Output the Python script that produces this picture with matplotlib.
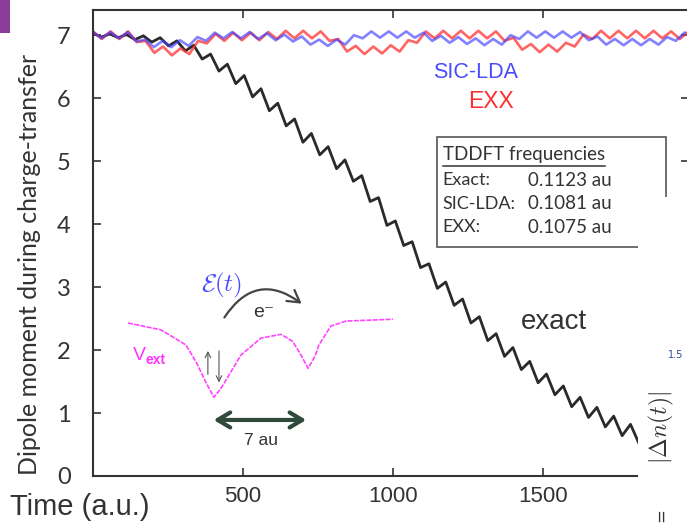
import numpy as np
import matplotlib
matplotlib.use('Agg')
import matplotlib.pyplot as plt
from matplotlib.patches import Rectangle, FancyArrowPatch
from matplotlib.lines import Line2D

plt.rcParams['mathtext.fontset'] = 'cm'

# exact dipole, read at the wiggle extrema (every ~28 au)
t_exact = np.arange(0, 1989, 28)
d_exact = [7.03, 6.97, 7.02, 6.96, 7.01, 6.93, 6.99, 6.89, 6.96, 6.83,
           6.91, 6.75, 6.84, 6.62, 6.70, 6.43, 6.54, 6.23, 6.36, 6.02,
           6.15, 5.80, 5.92, 5.56, 5.67, 5.30, 5.44, 5.10, 5.23, 4.88,
           5.02, 4.68, 4.77, 4.36, 4.42, 3.98, 4.05, 3.66, 3.72, 3.31,
           3.37, 2.98, 3.08, 2.71, 2.81, 2.43, 2.53, 2.15, 2.26, 1.90,
           2.04, 1.69, 1.82, 1.48, 1.62, 1.29, 1.43, 1.10, 1.25, 0.93,
           1.09, 0.78, 0.95, 0.64, 0.82, 0.52, 0.70, 0.41, 0.60, 0.31,
           0.51, 0.25]

# SIC-LDA dipole, extrema every ~29 au
t_sic = np.arange(0, 1973, 29)
d_sic = [7.05, 6.95, 7.05, 6.95, 7.05, 6.90, 6.93, 6.81, 6.91, 6.81,
         6.92, 6.83, 6.97, 6.91, 7.04, 6.95, 7.05, 6.95, 7.05, 6.94,
         7.03, 6.92, 7.01, 6.90, 6.98, 6.85, 6.93, 6.83, 6.93, 6.85,
         7.00, 6.95, 7.06, 6.96, 7.06, 6.96, 7.06, 6.96, 7.04, 6.91,
         6.99, 6.88, 6.97, 6.86, 6.95, 6.84, 6.94, 6.85, 7.00, 6.94,
         7.06, 6.96, 7.06, 6.96, 7.06, 6.96, 7.05, 6.92, 6.98, 6.85,
         6.94, 6.84, 6.94, 6.84, 6.94, 6.85, 6.97, 6.91, 7.04]

# EXX dipole, extrema every ~29.2 au
t_exx = np.arange(69) * 29.2
d_exx = [7.06, 6.94, 7.06, 6.94, 7.06, 6.89, 6.91, 6.72, 6.82, 6.68,
         6.79, 6.70, 6.91, 6.87, 7.02, 6.91, 7.04, 6.92, 7.04, 6.92,
         7.05, 6.94, 7.07, 6.95, 7.07, 6.95, 7.06, 6.91, 6.94, 6.74,
         6.83, 6.70, 6.82, 6.71, 6.84, 6.74, 6.92, 6.88, 7.06, 6.95,
         7.07, 6.95, 7.07, 6.95, 7.07, 6.95, 7.06, 6.91, 6.96, 6.77,
         6.86, 6.73, 6.85, 6.74, 6.88, 6.82, 7.01, 6.94, 7.07, 6.95,
         7.07, 6.95, 7.07, 6.95, 7.07, 6.95, 7.06, 6.94, 7.06]

# sketch of the double-well potential (in plot units)
vext_t = [117, 227, 310, 345, 375, 403, 425, 443, 493, 560, 627, 665, 690,
          717, 740, 753, 793, 843, 1000]
vext_d = [2.43, 2.32, 2.08, 1.80, 1.50, 1.25, 1.38, 1.52, 1.92, 2.19, 2.25,
          2.14, 1.95, 1.71, 1.90, 2.08, 2.38, 2.46, 2.49]

freq_names = ['Exact:', 'SIC-LDA:', 'EXX:']
freq_values = ['0.1123 au', '0.1081 au', '0.1075 au']

narrow = ['Liberation Sans Narrow', 'Liberation Sans', 'DejaVu Sans']
calib = ['Lato', 'DejaVu Sans']

fig = plt.figure(figsize=(6.87, 5.25), dpi=100)
ax = fig.add_axes([93 / 687, 49 / 525, 596 / 687, 466 / 525])

ax.plot(t_exact, d_exact, color='#2a2a2a', lw=2.0, solid_joinstyle='round')
ax.plot(t_exx, d_exx, color='#ff3030', lw=1.9, alpha=0.75, solid_joinstyle='round')
ax.plot(t_sic, d_sic, color='#4040ff', lw=1.9, alpha=0.65, solid_joinstyle='round')

ax.set_xlim(0, 1987)
ax.set_ylim(0, 7.4)
ax.set_xticks([500, 1000, 1500])
ax.set_yticks(range(8))
ax.tick_params(direction='in', length=6, width=1.2, color='#333333',
               top=True, right=True)
ax.tick_params(axis='y', pad=16, labelsize=17, labelcolor='#333333')
ax.tick_params(axis='x', pad=7, labelsize=16, labelcolor='#333333')
for lab in ax.get_yticklabels():
    lab.set_family(calib)
for lab in ax.get_xticklabels():
    lab.set_family(narrow)
for sp in ax.spines.values():
    sp.set_color('#333333')
    sp.set_linewidth(1.5)

# curve labels
ax.text(1277, 6.41, 'SIC-LDA', color='#4a4aff', fontsize=15.5, family=narrow,
        ha='center', va='center')
ax.text(1327, 5.94, 'EXX', color='#ff3030', fontsize=16.5, family=narrow,
        ha='center', va='center')
ax.text(1537, 2.44, 'exact', color='#333333', fontsize=20, family=narrow,
        ha='center', va='center')

# frequency box
ax.add_patch(Rectangle((0.577, 0.491), 0.384, 0.236, transform=ax.transAxes,
                       facecolor='white', edgecolor='#555555', lw=1.2, zorder=5))
ax.text(0.587, 0.689, 'TDDFT frequencies', transform=ax.transAxes, fontsize=13.5,
        family=calib, color='#333333', va='center', zorder=6)
ax.add_line(Line2D([0.587, 0.859], [0.665, 0.665], transform=ax.transAxes,
                   color='#333333', lw=1.1, zorder=6))
for i, (n, v) in enumerate(zip(freq_names, freq_values)):
    y = 0.635 - i * 0.0505
    ax.text(0.587, y, n, transform=ax.transAxes, fontsize=13, family=calib,
            color='#333333', va='center', zorder=6)
    ax.text(0.730, y, v, transform=ax.transAxes, fontsize=13.5, family=calib,
            color='#333333', va='center', zorder=6)

# inset sketch
ax.plot(vext_t, vext_d, color='#ff44ff', lw=1.2, ls=(0, (3, 0.8)))
ax.text(427, 3.03, r'$\mathcal{E}(t)$', color='#4a4aff', fontsize=18,
        ha='center', va='center')
ax.add_patch(FancyArrowPatch((433, 2.48), (703, 2.71), connectionstyle='arc3,rad=-0.55',
                             arrowstyle='->,head_length=0.6,head_width=0.35',
                             mutation_scale=14, color='#444444', lw=1.6))
ax.text(570, 2.59, 'e\u207b', color='#333333', fontsize=14, ha='center',
        va='center', family=narrow)
ax.text(175, 1.92, 'V', color='#ff33ff', fontsize=14, ha='right',
        va='center', family=narrow)
ax.text(175, 1.84, 'ext', color='#ff33ff', fontsize=10, ha='left',
        va='center', family=narrow, fontweight='bold')
ax.annotate('', xy=(383, 2.03), xytext=(383, 1.57),
            arrowprops=dict(arrowstyle='->', color='#555555', lw=0.8))
ax.annotate('', xy=(420, 1.44), xytext=(420, 2.03),
            arrowprops=dict(arrowstyle='->', color='#555555', lw=0.8))
ax.add_patch(FancyArrowPatch((393, 0.89), (720, 0.89),
                             arrowstyle='<->,head_length=0.5,head_width=0.3',
                             mutation_scale=18, color='#2f4a3a', lw=3))
ax.text(560, 0.57, '7 au', color='#333333', fontsize=12.5, family=narrow,
        ha='center', va='center')

# axis titles
fig.text(30 / 687, 0.497, 'Dipole moment during charge-transfer', rotation=90,
         fontsize=18, family=calib, color='#333333', ha='center', va='center')
fig.text(10 / 687, 18 / 525, 'Time (a.u.)', fontsize=21, family=narrow,
         color='#333333', ha='left', va='center')

# slide pieces around the chart
fig.patches.append(Rectangle((638 / 687, 0), 49 / 687, 328 / 525,
                             transform=fig.transFigure, facecolor='white',
                             edgecolor='none', zorder=10))
fig.patches.append(Rectangle((0, 1 - 33 / 525), 10 / 687, 33 / 525,
                             transform=fig.transFigure, facecolor='#8c3c9c',
                             edgecolor='none', zorder=10))
fig.text(661 / 687, 97 / 525, r'$|\Delta n(t)|$', rotation=90, fontsize=17,
         ha='center', va='center', color='#333333', zorder=11)
fig.text(661 / 687, 10 / 525, '=', rotation=90, fontsize=12,
         ha='center', va='center', color='#333333', zorder=11)
fig.text(668 / 687, 170 / 525, '1.5', fontsize=7, color='#2a4a9a',
         ha='left', va='center', zorder=11)

fig.savefig('out.png', dpi=100)
